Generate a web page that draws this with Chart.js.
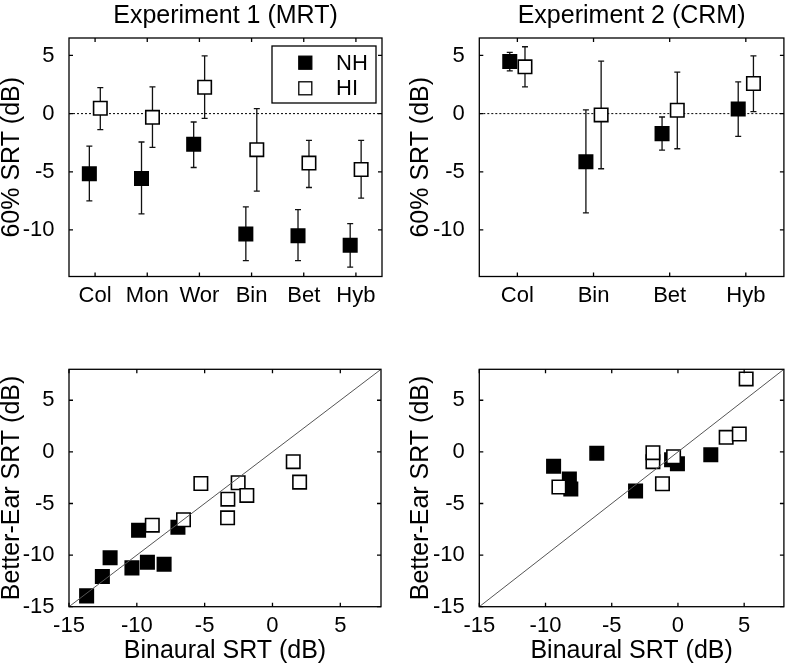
<!DOCTYPE html>
<html>
<head>
<meta charset="utf-8">
<title>SRT figure</title>
<script src="https://cdn.jsdelivr.net/npm/chart.js@4.4.1/dist/chart.umd.min.js"></script>
<style>
  body { margin: 0; background: #fff; }
  #wrap { position: relative; width: 795px; height: 666px; overflow: hidden; }
  canvas { position: absolute; }
</style>
</head>
<body>
<div id="wrap">
  <canvas id="exp1" width="397" height="330" style="left:0;top:0"></canvas>
  <canvas id="exp2" width="395" height="330" style="left:400px;top:0"></canvas>
  <canvas id="scat1" width="397" height="336" style="left:0;top:330px"></canvas>
  <canvas id="scat2" width="395" height="336" style="left:400px;top:330px"></canvas>
</div>
<script>
// ── Data ──
const exp1Cats = ['Col', 'Mon', 'Wor', 'Bin', 'Bet', 'Hyb'];
const exp1NH   = [-5.17, -5.57, -2.64, -10.34, -10.49, -11.32];
const exp1NHLo = [-7.5, -8.62, -4.63, -12.64, -12.64, -13.19];
const exp1NHHi = [-2.8, -2.44, -0.72, -8.02, -8.25, -9.45];
const exp1HI   = [0.46, -0.32, 2.27, -3.1, -4.25, -4.8];
const exp1HILo = [-1.38, -2.9, -0.4, -6.67, -6.35, -7.27];
const exp1HIHi = [2.24, 2.3, 4.97, 0.43, -2.3, -2.3];

const exp2Cats = ['Col', 'Bin', 'Bet', 'Hyb'];
const exp2NH   = [4.48, -4.14, -1.72, 0.4];
const exp2NHLo = [3.68, -8.53, -3.13, -1.95];
const exp2NHHi = [5.26, 0.32, -0.29, 2.73];
const exp2HI   = [4.02, -0.11, 0.29, 2.59];
const exp2HILo = [2.3, -4.74, -3.02, 0.17];
const exp2HIHi = [5.75, 4.51, 3.56, 4.97];

// binaural vs better-ear SRT, per listener
const scat1NHx = [-13.7, -12.54, -11.97, -10.36, -9.87, -9.22, -7.99, -6.97];
const scat1NHy = [-13.95, -12.07, -10.26, -11.24, -7.59, -10.7, -10.88, -7.31];
const scat1HIx = [-8.86, -6.56, -5.28, -3.29, -3.31, -2.53, -1.89, 1.53, 2.0];
const scat1HIy = [-7.1, -6.58, -3.06, -4.58, -6.39, -2.99, -4.22, -0.95, -2.93];

const scat2NHx = [-9.39, -8.2, -8.09, -6.13, -3.2, -0.48, -0.04, 2.48];
const scat2NHy = [-1.4, -2.62, -3.59, -0.14, -3.8, -0.76, -1.15, -0.28];
const scat2HIx = [-8.99, -1.89, -1.89, -1.17, -0.33, 3.64, 4.63, 5.15];
const scat2HIy = [-3.4, -0.95, -0.08, -3.09, -0.47, 1.41, 1.73, 7.07];

const groupLabels = ['NH', 'HI'];
const srtTicks = [-10, -5, 0, 5];
const scatTicks = [-15, -10, -5, 0, 5];
const zeroLineX = [0.5, 6.5];
const diagLine = [-15, 8];

const FONT = "'Liberation Sans', Arial, Helvetica, sans-serif";
Chart.defaults.font.family = FONT;
Chart.defaults.color = '#000';

// ── Plugins ──
const errorBarPlugin = {
  id: 'errorBars',
  beforeDatasetsDraw(chart) {
    const { ctx, scales: { y } } = chart;
    ctx.save();
    ctx.strokeStyle = '#111';
    ctx.lineWidth = 1.3;
    chart.data.datasets.forEach((ds, di) => {
      if (!ds.errLo) return;
      const meta = chart.getDatasetMeta(di);
      meta.data.forEach((pt, i) => {
        const yLo = y.getPixelForValue(ds.errLo[i]);
        const yHi = y.getPixelForValue(ds.errHi[i]);
        ctx.beginPath();
        ctx.moveTo(pt.x, yLo); ctx.lineTo(pt.x, yHi);
        ctx.moveTo(pt.x - 3, yLo); ctx.lineTo(pt.x + 3, yLo);
        ctx.moveTo(pt.x - 3, yHi); ctx.lineTo(pt.x + 3, yHi);
        ctx.stroke();
      });
    });
    ctx.restore();
  }
};

// box round the axes with inward ticks on all four sides
const framePlugin = {
  id: 'frame',
  afterDatasetsDraw(chart) {
    const { ctx, chartArea: a, scales: { x, y } } = chart;
    const tl = 4;
    ctx.save();
    ctx.strokeStyle = '#000';
    ctx.lineWidth = 1.3;
    ctx.beginPath();
    x.ticks.forEach(t => {
      const px = x.getPixelForValue(t.value);
      ctx.moveTo(px, a.bottom); ctx.lineTo(px, a.bottom - tl);
      ctx.moveTo(px, a.top); ctx.lineTo(px, a.top + tl);
    });
    y.ticks.forEach(t => {
      const py = y.getPixelForValue(t.value);
      ctx.moveTo(a.left, py); ctx.lineTo(a.left + tl, py);
      ctx.moveTo(a.right, py); ctx.lineTo(a.right - tl, py);
    });
    ctx.stroke();
    ctx.strokeRect(a.left, a.top, a.right - a.left, a.bottom - a.top);
    ctx.restore();
  }
};

const legendPlugin = {
  id: 'boxLegend',
  afterDraw(chart) {
    const { ctx } = chart;
    ctx.save();
    ctx.fillStyle = '#fff';
    ctx.fillRect(272, 46, 104, 57);
    ctx.strokeStyle = '#000';
    ctx.lineWidth = 1.3;
    ctx.strokeRect(272, 46, 104, 57);
    ctx.font = '22px ' + FONT;
    ctx.textBaseline = 'middle';
    groupLabels.forEach((lab, i) => {
      const cy = 62.7 + i * 25.6;
      ctx.fillStyle = i === 0 ? '#000' : '#fff';
      ctx.fillRect(298.8, cy - 6.5, 13, 13);
      ctx.lineWidth = 1.3;
      ctx.strokeRect(298.8, cy - 6.5, 13, 13);
      ctx.fillStyle = '#000';
      ctx.fillText(lab, 336, cy + 1);
    });
    ctx.restore();
  }
};

// ── Helpers ──
function marker(filled) {
  return {
    pointStyle: 'rect',
    pointRadius: 9.5,
    pointBorderWidth: 1.6,
    pointBackgroundColor: filled ? '#000' : '#fff',
    pointBorderColor: '#000',
    showLine: false
  };
}

function linScale(min, max, ticks, title, titlePad, labelFn) {
  const s = {
    type: 'linear', min, max,
    grid: { display: false },
    border: { display: false },
    ticks: { font: { size: 22 }, color: '#000', padding: -2 },
    afterBuildTicks: sc => { sc.ticks = ticks.map(v => ({ value: v })); }
  };
  if (labelFn) s.ticks.callback = labelFn;
  if (title) s.title = { display: true, text: title, font: { size: 25, lineHeight: 1 }, color: '#000', padding: titlePad };
  return s;
}

function makeChart(id, datasets, o) {
  const x = linScale(o.xMin, o.xMax, o.xTicks, o.xTitle, { top: 0, bottom: 2.5 }, o.xLabel);
  x.afterFit = sc => { sc.height = o.xH; };
  const y = linScale(o.yMin, o.yMax, o.yTicks, o.yTitle, { top: o.yTitlePad, bottom: 0 });
  y.ticks.padding = 6.5;
  y.afterFit = sc => { sc.width = o.yW; };
  return new Chart(document.getElementById(id), {
    type: 'scatter',
    data: { datasets },
    options: {
      responsive: false,
      animation: false,
      events: [],
      layout: { padding: o.pad },
      scales: { x, y },
      plugins: {
        legend: { display: false },
        tooltip: { enabled: false },
        title: o.title ? {
          display: true, text: o.title, fullSize: false, color: '#000',
          font: { size: 25, weight: 'normal', lineHeight: 1 },
          padding: { top: 4, bottom: 9 }
        } : { display: false }
      }
    },
    plugins: [errorBarPlugin, framePlugin].concat(o.extra || [])
  });
}

function catPoints(vals, shift) {
  return vals.map((v, i) => ({ x: i + 1 + shift, y: v }));
}
function xyPoints(xs, ys) {
  return xs.map((v, i) => ({ x: v, y: ys[i] }));
}

// ── Experiment 1 (MRT) ──
makeChart('exp1', [
  Object.assign({ label: 'NH', data: catPoints(exp1NH, -0.11), errLo: exp1NHLo, errHi: exp1NHHi }, marker(true)),
  Object.assign({ label: 'HI', data: catPoints(exp1HI, 0.1), errLo: exp1HILo, errHi: exp1HIHi }, marker(false)),
  { data: zeroLineX.map(v => ({ x: v, y: 0 })), showLine: true, pointRadius: 0,
    borderColor: '#000', borderWidth: 1, borderDash: [2, 2] }
], {
  xMin: 0.5, xMax: 6.5, xTicks: exp1Cats.map((c, i) => i + 1), xLabel: v => exp1Cats[v - 1],
  yMin: -14, yMax: 6.5, yTicks: srtTicks, yTitle: '60% SRT (dB)', yTitlePad: 0,
  xH: 53.5, yW: 69, pad: { left: 0, right: 15, top: 0, bottom: 0 },
  title: 'Experiment 1 (MRT)', extra: [legendPlugin]
});

// ── Experiment 2 (CRM) ──
makeChart('exp2', [
  Object.assign({ label: 'NH', data: catPoints(exp2NH, -0.1), errLo: exp2NHLo, errHi: exp2NHHi }, marker(true)),
  Object.assign({ label: 'HI', data: catPoints(exp2HI, 0.1), errLo: exp2HILo, errHi: exp2HIHi }, marker(false)),
  { data: [0.5, 4.5].map(v => ({ x: v, y: 0 })), showLine: true, pointRadius: 0,
    borderColor: '#000', borderWidth: 1, borderDash: [2, 2] }
], {
  xMin: 0.5, xMax: 4.5, xTicks: exp2Cats.map((c, i) => i + 1), xLabel: v => exp2Cats[v - 1],
  yMin: -14, yMax: 6.5, yTicks: srtTicks, yTitle: '60% SRT (dB)', yTitlePad: 9,
  xH: 53.5, yW: 79.3, pad: { left: 0, right: 4.3, top: 0, bottom: 0 },
  title: 'Experiment 2 (CRM)'
});

// ── Binaural vs better-ear ──
function diagSet() {
  return { data: diagLine.map(v => ({ x: v, y: v })), showLine: true, pointRadius: 0,
    borderColor: '#555', borderWidth: 1 };
}

makeChart('scat1', [
  diagSet(),
  Object.assign({ label: 'HI', data: xyPoints(scat1HIx, scat1HIy) }, marker(false)),
  Object.assign({ label: 'NH', data: xyPoints(scat1NHx, scat1NHy) }, marker(true))
], {
  xMin: -15, xMax: 8, xTicks: scatTicks, xTitle: 'Binaural SRT (dB)',
  yMin: -15, yMax: 8, yTicks: scatTicks, yTitle: 'Better-Ear SRT (dB)', yTitlePad: 0,
  xH: 59.3, yW: 69, pad: { left: 0, right: 16, top: 39.3, bottom: 0 }
});

makeChart('scat2', [
  diagSet(),
  Object.assign({ label: 'HI', data: xyPoints(scat2HIx, scat2HIy) }, marker(false)),
  Object.assign({ label: 'NH', data: xyPoints(scat2NHx, scat2NHy) }, marker(true))
], {
  xMin: -15, xMax: 8, xTicks: scatTicks, xTitle: 'Binaural SRT (dB)',
  yMin: -15, yMax: 8, yTicks: scatTicks, yTitle: 'Better-Ear SRT (dB)', yTitlePad: 9,
  xH: 59.3, yW: 79.3, pad: { left: 0, right: 3.7, top: 39.3, bottom: 0 }
});
</script>
</body>
</html>
